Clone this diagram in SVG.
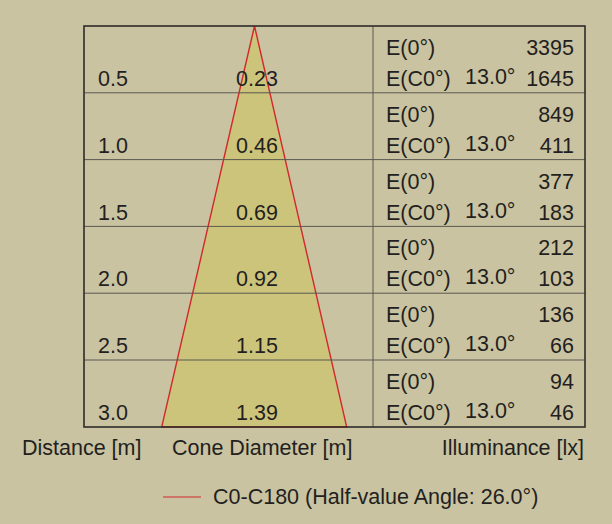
<svg xmlns="http://www.w3.org/2000/svg" width="612" height="524" viewBox="0 0 612 524">
<style>
text{font-family:"Liberation Sans",Arial,sans-serif;font-size:21.5px;fill:#231f20}
.e{text-anchor:start}
.r{text-anchor:end}
.m{text-anchor:middle}
.grid{stroke:#5b5850;stroke-width:1;fill:none}
.frame{stroke:#2e2c28;stroke-width:1.6;fill:none}
</style>
<rect width="612" height="524" fill="#c9c3a1"/>
<g id="cone">
<polygon points="254.5,26 161.7,427 346.7,427" fill="#ccc47b" stroke="#d2282c" stroke-width="1.4"/>
</g>
<g id="grid">
<line class="grid" x1="84" y1="92.8" x2="585" y2="92.8"/>
<line class="grid" x1="84" y1="159.6" x2="585" y2="159.6"/>
<line class="grid" x1="84" y1="226.4" x2="585" y2="226.4"/>
<line class="grid" x1="84" y1="293.2" x2="585" y2="293.2"/>
<line class="grid" x1="84" y1="360" x2="585" y2="360"/>
<line class="grid" x1="373" y1="26" x2="373" y2="427"/>
<rect class="frame" x="84" y="26" width="501" height="401"/>
</g>
<g id="row1">
<text x="98" y="86">0.5</text><text class="m" x="257" y="86">0.23</text>
<text x="386" y="55">E(0°)</text><text class="r" x="574" y="55">3395</text>
<text x="386" y="86">E(C0°)</text><text x="465" y="84">13.0°</text><text class="r" x="574" y="86">1645</text>
</g>
<g id="row2">
<text x="98" y="152.8">1.0</text><text class="m" x="257" y="152.8">0.46</text>
<text x="386" y="121.8">E(0°)</text><text class="r" x="574" y="121.8">849</text>
<text x="386" y="152.8">E(C0°)</text><text x="465" y="150.8">13.0°</text><text class="r" x="574" y="152.8">411</text>
</g>
<g id="row3">
<text x="98" y="219.6">1.5</text><text class="m" x="257" y="219.6">0.69</text>
<text x="386" y="188.6">E(0°)</text><text class="r" x="574" y="188.6">377</text>
<text x="386" y="219.6">E(C0°)</text><text x="465" y="217.6">13.0°</text><text class="r" x="574" y="219.6">183</text>
</g>
<g id="row4">
<text x="98" y="286.4">2.0</text><text class="m" x="257" y="286.4">0.92</text>
<text x="386" y="255.4">E(0°)</text><text class="r" x="574" y="255.4">212</text>
<text x="386" y="286.4">E(C0°)</text><text x="465" y="284.4">13.0°</text><text class="r" x="574" y="286.4">103</text>
</g>
<g id="row5">
<text x="98" y="353.2">2.5</text><text class="m" x="257" y="353.2">1.15</text>
<text x="386" y="322.2">E(0°)</text><text class="r" x="574" y="322.2">136</text>
<text x="386" y="353.2">E(C0°)</text><text x="465" y="351.2">13.0°</text><text class="r" x="574" y="353.2">66</text>
</g>
<g id="row6">
<text x="98" y="420">3.0</text><text class="m" x="257" y="420">1.39</text>
<text x="386" y="389">E(0°)</text><text class="r" x="574" y="389">94</text>
<text x="386" y="420">E(C0°)</text><text x="465" y="418">13.0°</text><text class="r" x="574" y="420">46</text>
</g>
<g id="labels">
<text x="22" y="455">Distance [m]</text>
<text x="172" y="455">Cone Diameter [m]</text>
<text class="r" x="584" y="455">Illuminance [lx]</text>
</g>
<g id="legend">
<line x1="163" y1="497" x2="201" y2="497" stroke="#d2282c" stroke-width="1.2"/>
<text x="213" y="504">C0-C180 (Half-value Angle: 26.0°)</text>
</g>
</svg>
